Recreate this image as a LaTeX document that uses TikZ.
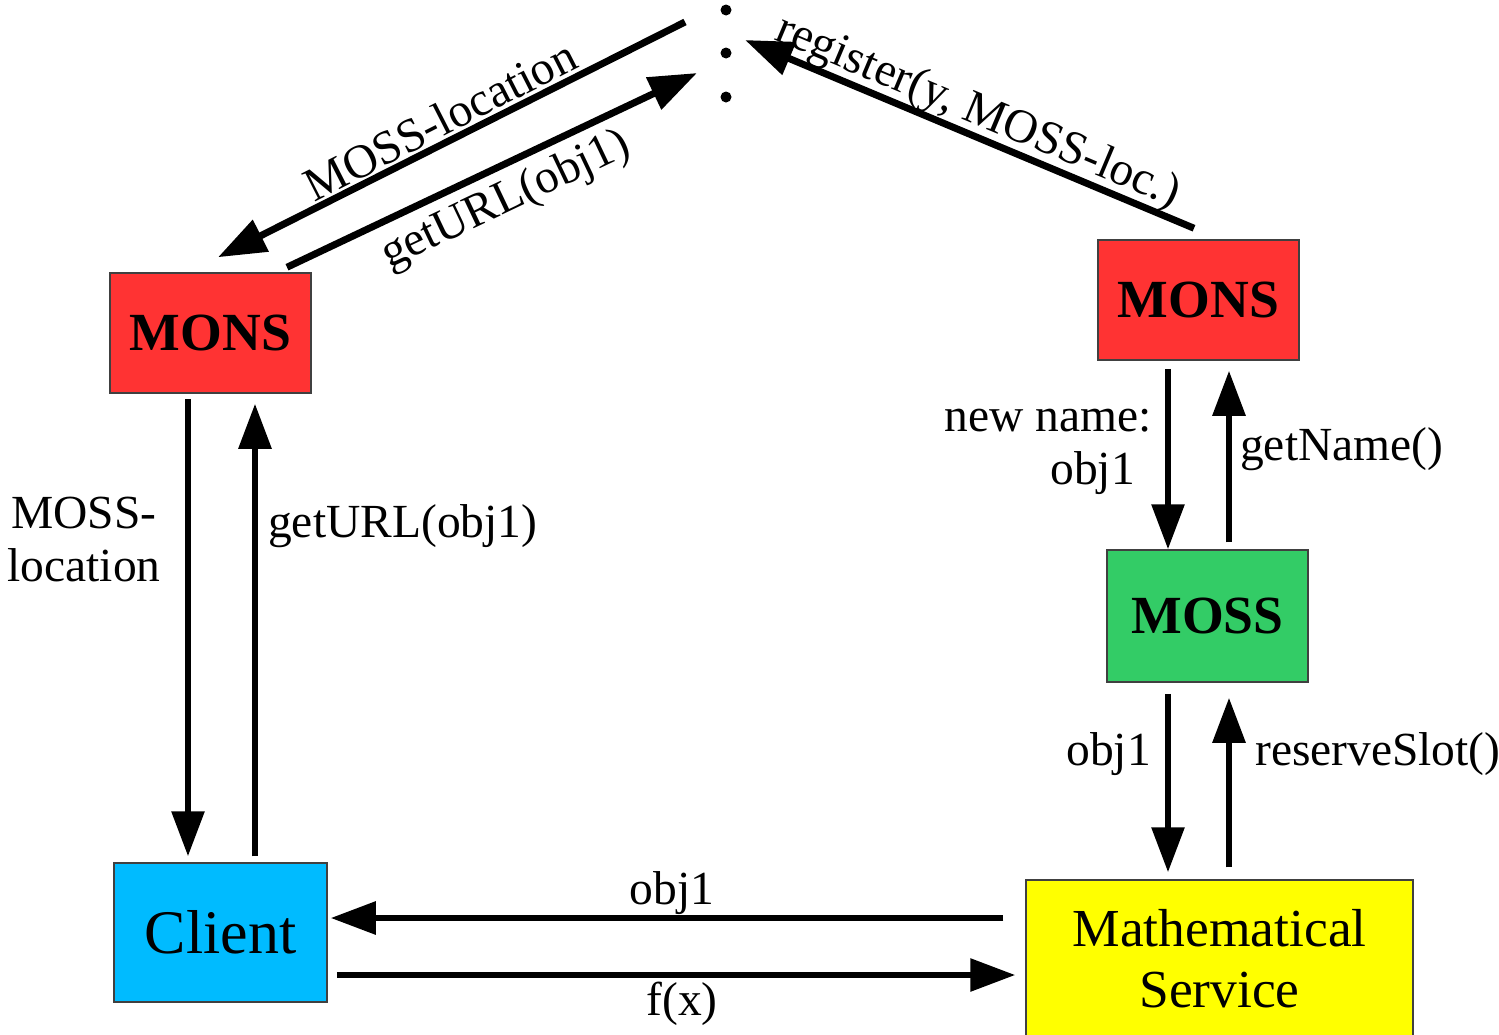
\documentclass[tikz,border=0pt]{standalone}
\usepackage{fontspec}
\setmainfont{Liberation Serif}
\usetikzlibrary{arrows.meta,calc}
\definecolor{monsred}{HTML}{FF3333}
\definecolor{mossgreen}{HTML}{33CC66}
\definecolor{clientblue}{HTML}{00BBFF}
\definecolor{mathyellow}{HTML}{FFFF00}
\begin{document}
\begin{tikzpicture}[x=1pt,y=-1pt,
  box/.style={draw=black!75, line width=1.5pt, inner sep=0pt},
  boldbox/.style={box, font=\bfseries\fontsize{53.7}{60}\selectfont},
  lbl/.style={font=\fontsize{47.5}{53}\selectfont, inner sep=0pt},
  arr/.style={line width=6pt, -{Triangle[length=45pt,width=32pt]}},
  darr/.style={line width=7pt, -{Triangle[length=48pt,width=34pt]}}]
\useasboundingbox (0,0) rectangle (1499,1034);

% boxes
\node[boldbox, fill=monsred, minimum width=201pt, minimum height=120pt] (monsL) at (210.5,333) {MONS};
\node[boldbox, fill=monsred, minimum width=201pt, minimum height=120pt] (monsR) at (1198.5,300) {MONS};
\node[boldbox, fill=mossgreen, minimum width=201pt, minimum height=132pt] (moss) at (1207.5,616) {MOSS};
\node[box, fill=clientblue, minimum width=213pt, minimum height=139pt, font=\fontsize{62}{70}\selectfont] (client) at (220.5,932.5) {Client};
\node[box, fill=mathyellow, minimum width=387pt, minimum height=158pt, align=center, font=\fontsize{53.5}{61}\selectfont] (math) at (1219.5,959) {Mathematical\\Service};

% dots
\coordinate (dots) at (726,53);
\fill (726,10) circle[radius=5.5pt];
\fill (dots) circle[radius=5.5pt];
\fill (726,97) circle[radius=5.5pt];

% diagonal arrows
\draw[darr] ($(dots)+(-41,-31)$) -- ($(monsL.north)+(7.5,-15)$);
\draw[darr] ($(monsL.north)+(76.5,-5)$) -- ($(dots)+(-29,20)$);
\draw[darr] ($(monsR.north)+(-4.5,-11)$) -- ($(dots)+(19,-13)$);
\node[lbl, rotate=27] (lblA) at (440,120) {MOSS-location};
\node[lbl, rotate=25.4] (lblB) at (506,201) {getURL(obj1)};
\node[lbl, rotate=-22.8] (lblC) at (978,113) {register(y, MOSS-loc.)};

% left verticals
\draw[arr] ($(monsL.south)+(-22.5,5)$) -- ($(client.north)+(-32.5,-6)$);
\draw[arr] ($(client.north)+(34.5,-6)$) -- ($(monsL.south)+(44.5,10)$);
\node[lbl, align=center] (lblD) at (84,539) {MOSS-\\location};
\node[lbl, anchor=west] (lblE) at (268,526) {getURL(obj1)};

% right upper verticals
\draw[arr] ($(monsR.south)+(-30.5,8)$) -- ($(moss.north)+(-39.5,0)$);
\draw[arr] ($(moss.north)+(21.5,-7)$) -- ($(monsR.south)+(30.5,10)$);
\node[lbl, align=right, anchor=east] (lblF) at (1152,452) {new name:\\obj1\hspace*{17pt}};
\node[lbl, anchor=west] (lblG) at (1240,449) {getName()};

% right lower verticals
\draw[arr] ($(moss.south)+(-39.5,11)$) -- ($(math.north)+(-51.5,-7)$);
\draw[arr] ($(math.north)+(9.5,-12)$) -- ($(moss.south)+(21.5,15)$);
\node[lbl, anchor=east] (lblH) at (1151,754) {obj1};
\node[lbl, anchor=west] (lblI) at (1255,754) {reserveSlot()};

% bottom horizontals
\draw[arr] ($(math.west)+(-22,-41)$) -- ($(client.east)+(3,-14.5)$);
\draw[arr] ($(client.east)+(9,42.5)$) -- ($(math.west)+(-10,16)$);
\node[lbl] (lblJ) at (672,893) {obj1};
\node[lbl] (lblK) at (682,1004) {f(x)};
\end{tikzpicture}
\end{document}
